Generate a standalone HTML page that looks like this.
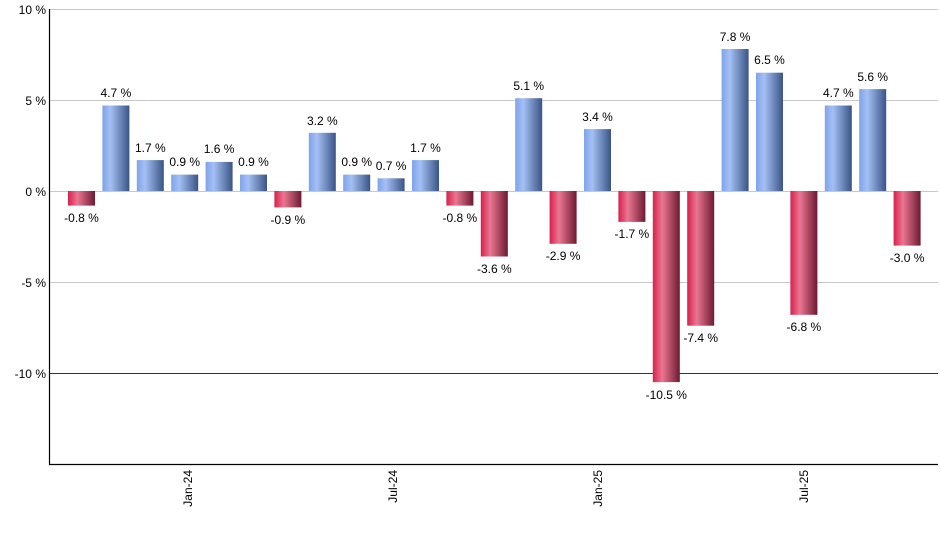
<!DOCTYPE html>
<html><head><meta charset="utf-8"><style>
body{margin:0;background:#fff}
svg{display:block;font-family:"Liberation Sans",sans-serif;font-size:12px}
</style></head><body>
<svg width="940" height="550" viewBox="0 0 940 550">
<defs>
<linearGradient id="b" x1="0" x2="1" y1="0" y2="0"><stop offset="0" stop-color="#7fa3ea"/><stop offset="0.3" stop-color="#a4c0f4"/><stop offset="1" stop-color="#3a5486"/></linearGradient>
<linearGradient id="r" x1="0" x2="1" y1="0" y2="0"><stop offset="0" stop-color="#d8204c"/><stop offset="0.35" stop-color="#ea7692"/><stop offset="1" stop-color="#6e1a32"/></linearGradient>
</defs>
<g stroke="#c8c8c8" stroke-width="1">
<line x1="50" x2="938" y1="9.5" y2="9.5"/><line x1="50" x2="938" y1="100.5" y2="100.5"/><line x1="50" x2="938" y1="191.5" y2="191.5"/><line x1="50" x2="938" y1="282.5" y2="282.5"/>
</g>
<line x1="50" x2="938" y1="373.5" y2="373.5" stroke="#333"/>
<g text-anchor="end" fill="#000">
<text x="46" y="14">10 %</text><text x="46" y="105">5 %</text><text x="46" y="196">0 %</text><text x="46" y="287">-5 %</text><text x="46" y="378">-10 %</text>
</g>
<g>
<rect x="68" y="191" width="27" height="14.6" fill="url(#r)"/>
<rect x="102.4" y="105.5" width="27" height="85.5" fill="url(#b)"/>
<rect x="136.8" y="160.1" width="27" height="30.9" fill="url(#b)"/>
<rect x="171.2" y="174.6" width="27" height="16.4" fill="url(#b)"/>
<rect x="205.6" y="161.9" width="27" height="29.1" fill="url(#b)"/>
<rect x="240" y="174.6" width="27" height="16.4" fill="url(#b)"/>
<rect x="274.4" y="191" width="27" height="16.4" fill="url(#r)"/>
<rect x="308.8" y="132.8" width="27" height="58.2" fill="url(#b)"/>
<rect x="343.2" y="174.6" width="27" height="16.4" fill="url(#b)"/>
<rect x="377.6" y="178.3" width="27" height="12.7" fill="url(#b)"/>
<rect x="412" y="160.1" width="27" height="30.9" fill="url(#b)"/>
<rect x="446.4" y="191" width="27" height="14.6" fill="url(#r)"/>
<rect x="480.8" y="191" width="27" height="65.5" fill="url(#r)"/>
<rect x="515.2" y="98.2" width="27" height="92.8" fill="url(#b)"/>
<rect x="549.6" y="191" width="27" height="52.8" fill="url(#r)"/>
<rect x="584" y="129.1" width="27" height="61.9" fill="url(#b)"/>
<rect x="618.4" y="191" width="27" height="30.9" fill="url(#r)"/>
<rect x="652.8" y="191" width="27" height="191.1" fill="url(#r)"/>
<rect x="687.2" y="191" width="27" height="134.7" fill="url(#r)"/>
<rect x="721.6" y="49" width="27" height="142" fill="url(#b)"/>
<rect x="756" y="72.7" width="27" height="118.3" fill="url(#b)"/>
<rect x="790.4" y="191" width="27" height="123.8" fill="url(#r)"/>
<rect x="824.8" y="105.5" width="27" height="85.5" fill="url(#b)"/>
<rect x="859.2" y="89.1" width="27" height="101.9" fill="url(#b)"/>
<rect x="893.6" y="191" width="27" height="54.6" fill="url(#r)"/>
</g>
<g text-anchor="middle" fill="#000">
<text x="81.5" y="222">-0.8 %</text>
<text x="115.9" y="97">4.7 %</text>
<text x="150.3" y="152">1.7 %</text>
<text x="184.7" y="166">0.9 %</text>
<text x="219.1" y="153">1.6 %</text>
<text x="253.5" y="166">0.9 %</text>
<text x="287.9" y="224">-0.9 %</text>
<text x="322.3" y="125">3.2 %</text>
<text x="356.7" y="166">0.9 %</text>
<text x="391.1" y="170">0.7 %</text>
<text x="425.5" y="152">1.7 %</text>
<text x="459.9" y="222">-0.8 %</text>
<text x="494.3" y="273">-3.6 %</text>
<text x="528.7" y="90">5.1 %</text>
<text x="563.1" y="260">-2.9 %</text>
<text x="597.5" y="121">3.4 %</text>
<text x="631.9" y="238">-1.7 %</text>
<text x="666.3" y="399">-10.5 %</text>
<text x="700.7" y="342">-7.4 %</text>
<text x="735.1" y="41">7.8 %</text>
<text x="769.5" y="64">6.5 %</text>
<text x="803.9" y="331">-6.8 %</text>
<text x="838.3" y="97">4.7 %</text>
<text x="872.7" y="81">5.6 %</text>
<text x="907.1" y="262">-3.0 %</text>
</g>
<line x1="49.5" x2="49.5" y1="9" y2="465" stroke="#000" stroke-width="1.2"/>
<line x1="49" x2="938" y1="464.5" y2="464.5" stroke="#000" stroke-width="1.2"/>
<g text-anchor="end" fill="#000">
<text transform="translate(192,470) rotate(-90)">Jan-24</text>
<text transform="translate(397,470) rotate(-90)">Jul-24</text>
<text transform="translate(602,470) rotate(-90)">Jan-25</text>
<text transform="translate(808,470) rotate(-90)">Jul-25</text>
</g>
</svg>
</body></html>
